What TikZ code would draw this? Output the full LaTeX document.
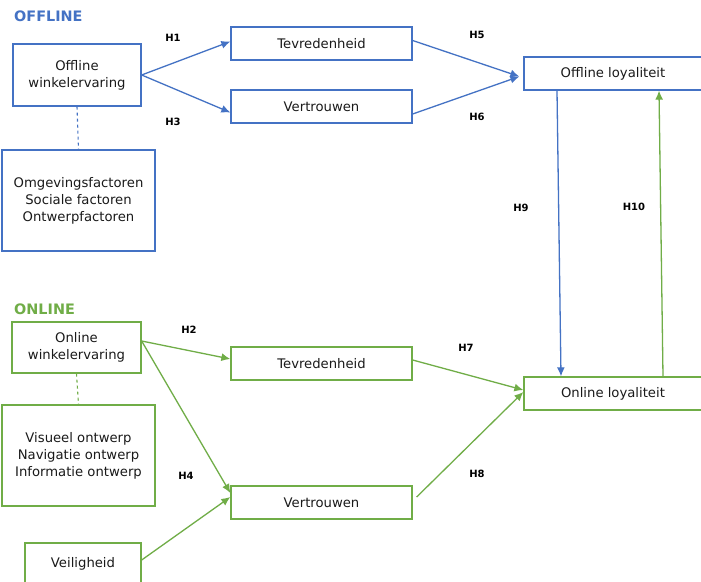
\documentclass[tikz,border=0pt]{standalone}
\usepackage{fontspec}
\setmainfont{DejaVu Sans}
\usetikzlibrary{arrows.meta}
\definecolor{offb}{HTML}{4472C4}
\definecolor{onlg}{HTML}{70AD47}
\definecolor{txt}{HTML}{1A1A1A}
\tikzset{
  box/.style={draw, line width=1.3pt, inner sep=0pt, align=center, text=txt,
    font=\fontsize{13.2}{17}\selectfont},
  offbox/.style={box, draw=offb},
  onbox/.style={box, draw=onlg},
  hlab/.style={font=\bfseries\fontsize{10}{12}\selectfont, text=black},
  offarr/.style={draw=offb, line width=1.3pt, -{Latex[length=9pt,width=8pt]}},
  onarr/.style={draw=onlg, line width=1.3pt, -{Latex[length=9pt,width=8pt]}},
  sect/.style={font=\bfseries\fontsize{14.4}{16}\selectfont, anchor=west, inner sep=0pt}
}
\begin{document}
\begin{tikzpicture}[x=1pt,y=-1pt]
\clip (0,0) rectangle (701,581);
\fill[white] (0,0) rectangle (701,581);
% section titles
\node[sect, text=offb] (offt) at (14,16) {OFFLINE};
\node[sect, text=onlg] (ont) at (14,309) {ONLINE};
% offline nodes
\node[offbox, minimum width=128pt, minimum height=62pt] (ow) at (77,75) {Offline\\winkelervaring};
\node[offbox, minimum width=153pt, minimum height=101pt] (omg) at (78.5,200.5) {Omgevingsfactoren\\Sociale factoren\\Ontwerpfactoren};
\node[offbox, minimum width=181pt, minimum height=33pt] (tev1) at (321.5,43.5) {Tevredenheid};
\node[offbox, minimum width=181pt, minimum height=33pt] (ver1) at (321.5,106.5) {Vertrouwen};
\node[offbox, minimum width=178pt, minimum height=33pt] (olo) at (613,73.5) {Offline loyaliteit};
% online nodes
\node[onbox, minimum width=129pt, minimum height=51pt] (ow2) at (76.5,347.5) {Online\\winkelervaring};
\node[onbox, minimum width=153pt, minimum height=101pt] (vis) at (78.5,455.5) {Visueel ontwerp\\Navigatie ontwerp\\Informatie ontwerp};
\node[onbox, minimum width=116pt, minimum height=42pt] (vei) at (83,564) {Veiligheid};
\node[onbox, minimum width=181pt, minimum height=33pt] (tev2) at (321.5,363.5) {Tevredenheid};
\node[onbox, minimum width=181pt, minimum height=33pt] (ver2) at (321.5,502.5) {Vertrouwen};
\node[onbox, minimum width=178pt, minimum height=33pt] (onl) at (613,393.5) {Online loyaliteit};
% dashed links
\draw[offb, line width=1.1pt, dashed] (ow.south) -- (omg.north);
\draw[onlg, line width=1.1pt, dashed] (ow2.south) -- (vis.north);
% offline arrows
\draw[offarr] (ow.east) -- ([yshift=2pt]tev1.west);
\draw[offarr] (ow.east) -- ([yshift=-6pt]ver1.west);
\draw[offarr] ([yshift=3pt]tev1.east) -- ([xshift=-4pt,yshift=-3pt]olo.west);
\draw[offarr] ([yshift=-7.5pt]ver1.east) -- ([xshift=-4pt,yshift=-3pt]olo.west);
\draw[offarr] ([xshift=-56pt]olo.south) -- ([xshift=-52pt]onl.north);
% online arrows
\draw[onarr] ([yshift=6.5pt]ow2.east) -- ([yshift=4.5pt]tev2.west);
\draw[onarr] ([yshift=6.5pt]ow2.east) -- ([yshift=9.5pt]ver2.west);
\draw[onarr] ([yshift=4pt]vei.east) -- ([yshift=5.5pt]ver2.west);
\draw[onarr] ([yshift=3.5pt]tev2.east) -- ([yshift=3.5pt]onl.west);
\draw[onarr] ([xshift=4pt,yshift=5.5pt]ver2.east) -- ([yshift=1.5pt]onl.west);
\draw[onarr] ([xshift=50pt]onl.north) -- ([xshift=46pt]olo.south);
% labels
\node[hlab] (h1) at (173,38) {H1};
\node[hlab] (h3) at (173,122) {H3};
\node[hlab] (h5) at (477,35) {H5};
\node[hlab] (h6) at (477,117) {H6};
\node[hlab] (h9) at (521,208) {H9};
\node[hlab] (h10) at (634,207) {H10};
\node[hlab] (h2) at (189,330) {H2};
\node[hlab] (h4) at (186,476) {H4};
\node[hlab] (h7) at (466,348) {H7};
\node[hlab] (h8) at (477,474) {H8};
\end{tikzpicture}
\end{document}
